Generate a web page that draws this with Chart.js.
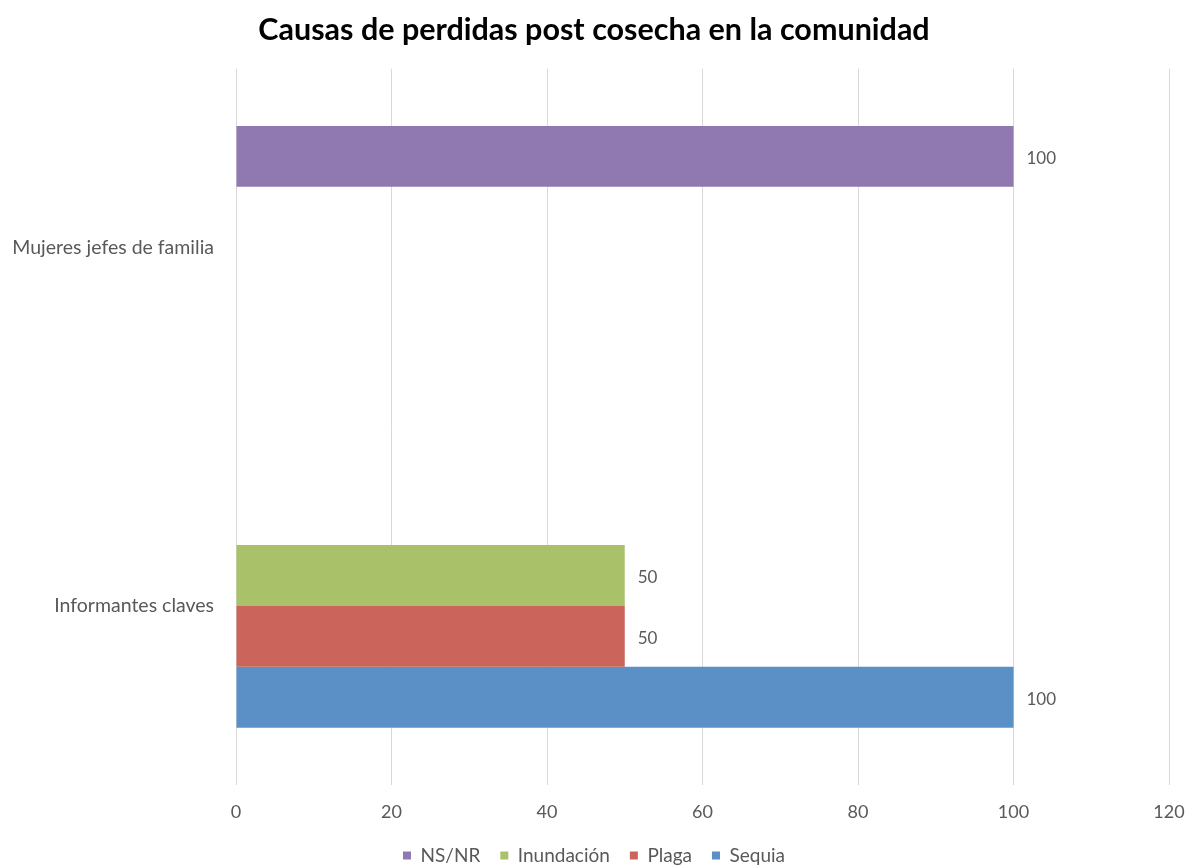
<!DOCTYPE html>
<html>
<head>
<meta charset="utf-8">
<script src="https://cdn.jsdelivr.net/npm/chart.js@4/dist/chart.umd.min.js"></script>
<style>
  html, body { margin: 0; padding: 0; background: #ffffff; }
  #wrap { width: 1188px; height: 868px; position: relative; }
</style>
</head>
<body>
<div id="wrap"><canvas id="c"></canvas></div>
<script>
// Groups shown on the vertical axis
const categories = ['Mujeres jefes de familia', 'Informantes claves'];

// Percentage per cause, one value per group
const nsnr       = [100, 0];
const inundacion = [0, 50];
const plaga      = [0, 50];
const sequia     = [0, 100];

// Horizontal axis ticks
const xTicks = [0, 20, 40, 60, 80, 100, 120];

const FONT = 'Lato, "Open Sans", "DejaVu Sans", sans-serif';
const GREY = '#595959';

// Writes each non-zero value just past the end of its bar
const barValueLabels = {
  id: 'barValueLabels',
  afterDatasetsDraw(chart) {
    const ctx = chart.ctx;
    ctx.save();
    ctx.font = '17px ' + FONT;
    ctx.fillStyle = GREY;
    ctx.textAlign = 'left';
    ctx.textBaseline = 'middle';
    chart.data.datasets.forEach((ds, i) => {
      const meta = chart.getDatasetMeta(i);
      meta.data.forEach((bar, j) => {
        const v = ds.data[j];
        if (!v) return;
        ctx.fillText(String(v), bar.x + 13, bar.y + 2);
      });
    });
    ctx.restore();
  }
};

new Chart(document.getElementById('c'), {
  type: 'bar',
  data: {
    labels: categories,
    datasets: [
      { label: 'NS/NR',      data: nsnr,       backgroundColor: '#9079B0' },
      { label: 'Inundación', data: inundacion, backgroundColor: '#A9C26A' },
      { label: 'Plaga',      data: plaga,      backgroundColor: '#CB645B' },
      { label: 'Sequia',     data: sequia,     backgroundColor: '#5B90C6' }
    ]
  },
  options: {
    indexAxis: 'y',
    responsive: true,
    maintainAspectRatio: false,
    animation: false,
    layout: { padding: { left: 0, right: 0, top: 0, bottom: -7 } },
    datasets: {
      bar: { categoryPercentage: 0.68, barPercentage: 1.0, borderWidth: 0 }
    },
    scales: {
      x: {
        min: 0,
        max: 120,
        afterBuildTicks(scale) { scale.ticks = xTicks.map(v => ({ value: v })); },
        afterFit(scale) {
          scale.height = 41;
          scale.paddingLeft = 0;
          scale.paddingRight = 19;
        },
        grid: { color: '#d9d9d9', lineWidth: 1, drawTicks: false },
        border: { display: false },
        ticks: { color: GREY, font: { family: FONT, size: 18 }, padding: 16 }
      },
      y: {
        grid: { display: false },
        border: { display: false },
        ticks: { color: GREY, font: { family: FONT, size: 19.5 }, padding: 14 },
        afterFit(scale) { scale.width = 236; }
      }
    },
    plugins: {
      title: {
        display: true,
        text: 'Causas de perdidas post cosecha en la comunidad',
        color: '#000000',
        font: { family: FONT, size: 30.5, weight: 'bold' },
        padding: { top: 12, bottom: 20 }
      },
      legend: {
        position: 'bottom',
        labels: {
          color: GREY,
          font: { family: FONT, size: 19 },
          boxWidth: 8,
          boxHeight: 8,
          padding: 20
        }
      },
      tooltip: { enabled: false }
    }
  },
  plugins: [barValueLabels]
});
</script>
</body>
</html>
